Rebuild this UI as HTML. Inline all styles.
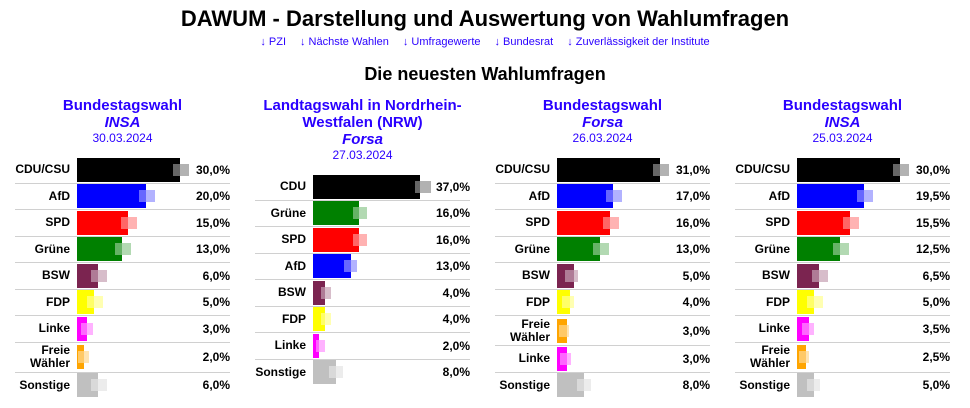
<!DOCTYPE html>
<html><head><meta charset="utf-8"><style>
body{margin:0;width:970px;height:408px;background:#fff;font-family:"Liberation Sans",Arial,sans-serif;position:relative;overflow:hidden}
.h1{position:absolute;top:6px;left:0;width:970px;text-align:center;font-weight:bold;font-size:22px;color:#000}
.nav{position:absolute;top:36px;left:0;width:970px;text-align:center;font-size:11px;color:#2a00ff}
.nav span{margin:0 7px}
.h2{position:absolute;top:64px;left:0;width:970px;text-align:center;font-weight:bold;font-size:18px}
.col{position:absolute;width:215px}
.t{text-align:center;color:#2a00ff;font-weight:bold;font-size:15px;line-height:17px}
.t i{display:block}
.d{text-align:center;color:#2a00ff;font-size:12px;line-height:15px;margin-bottom:11px}
.r{position:relative;height:25.5px;border-bottom:1px solid #d0d0d0}
.r.two{height:29px}
.l{position:absolute;right:160px;top:0;height:100%;display:flex;align-items:center;justify-content:flex-end;font-weight:bold;font-size:12px;text-align:right;line-height:13px}
.b{position:absolute;left:62px;top:50%;margin-top:-12px;height:24px;overflow:hidden}
.m{position:absolute;top:50%;margin-top:-6px;height:12px;width:16px}
.mi{position:absolute;top:6px;height:12px;width:16px;background:rgba(255,255,255,.4)}
.v{position:absolute;right:0;top:0;height:100%;display:flex;align-items:center;font-weight:bold;font-size:12px}
</style></head><body>
<div class="h1">DAWUM - Darstellung und Auswertung von Wahlumfragen</div>
<div class="nav"><span>↓ PZI</span><span>↓ Nächste Wahlen</span><span>↓ Umfragewerte</span><span>↓ Bundesrat</span><span>↓ Zuverlässigkeit der Institute</span></div>
<div class="h2">Die neuesten Wahlumfragen</div>

<div class="col" style="left:15px;top:97px">
<div class="t">Bundestagswahl<i>INSA</i></div><div class="d">30.03.2024</div>
<div class="r"><div class="l">CDU/CSU</div><div class="m" style="left:158px;background:rgba(0,0,0,.3)"></div><div class="b" style="width:103px;background:#000"><div class="mi" style="left:96px"></div></div><div class="v">30,0%</div></div>
<div class="r"><div class="l">AfD</div><div class="m" style="left:124px;background:rgba(0,0,255,.3)"></div><div class="b" style="width:69px;background:#00f"><div class="mi" style="left:62px"></div></div><div class="v">20,0%</div></div>
<div class="r"><div class="l">SPD</div><div class="m" style="left:106px;background:rgba(255,0,0,.3)"></div><div class="b" style="width:51px;background:#f00"><div class="mi" style="left:44px"></div></div><div class="v">15,0%</div></div>
<div class="r"><div class="l">Grüne</div><div class="m" style="left:100px;background:rgba(0,128,0,.3)"></div><div class="b" style="width:45px;background:#008000"><div class="mi" style="left:38px"></div></div><div class="v">13,0%</div></div>
<div class="r"><div class="l">BSW</div><div class="m" style="left:76px;background:rgba(123,36,80,.3)"></div><div class="b" style="width:21px;background:#7b2450"><div class="mi" style="left:14px"></div></div><div class="v">6,0%</div></div>
<div class="r"><div class="l">FDP</div><div class="m" style="left:72px;background:rgba(255,255,0,.3)"></div><div class="b" style="width:17px;background:#ff0"><div class="mi" style="left:10px"></div></div><div class="v">5,0%</div></div>
<div class="r"><div class="l">Linke</div><div class="m" style="left:66px;width:12px;background:rgba(255,0,255,.3)"></div><div class="b" style="width:10px;background:#f0f"><div class="mi" style="left:4px"></div></div><div class="v">3,0%</div></div>
<div class="r two"><div class="l">Freie<br>Wähler</div><div class="m" style="left:63px;width:11px;background:rgba(255,165,0,.3)"></div><div class="b" style="width:7px;background:#ffa500"><div class="mi" style="left:1px"></div></div><div class="v">2,0%</div></div>
<div class="r" style="border:0"><div class="l">Sonstige</div><div class="m" style="left:76px;background:rgba(192,192,192,.3)"></div><div class="b" style="width:21px;background:#c0c0c0"><div class="mi" style="left:14px"></div></div><div class="v">6,0%</div></div>
</div>

<div class="col" style="left:255px;top:97px">
<div class="t">Landtagswahl in Nordrhein-<br>Westfalen (NRW)<i>Forsa</i></div><div class="d">27.03.2024</div>
<div class="r"><div class="l" style="right:164px">CDU</div><div class="m" style="left:160px;background:rgba(0,0,0,.3)"></div><div class="b" style="left:58px;width:107px;background:#000"><div class="mi" style="left:102px"></div></div><div class="v">37,0%</div></div>
<div class="r"><div class="l" style="right:164px">Grüne</div><div class="m" style="left:98px;width:14px;background:rgba(0,128,0,.3)"></div><div class="b" style="left:58px;width:46px;background:#008000"><div class="mi" style="left:40px"></div></div><div class="v">16,0%</div></div>
<div class="r"><div class="l" style="right:164px">SPD</div><div class="m" style="left:98px;width:14px;background:rgba(255,0,0,.3)"></div><div class="b" style="left:58px;width:46px;background:#f00"><div class="mi" style="left:40px"></div></div><div class="v">16,0%</div></div>
<div class="r"><div class="l" style="right:164px">AfD</div><div class="m" style="left:89px;width:13px;background:rgba(0,0,255,.3)"></div><div class="b" style="left:58px;width:38px;background:#00f"><div class="mi" style="left:31px"></div></div><div class="v">13,0%</div></div>
<div class="r"><div class="l" style="right:164px">BSW</div><div class="m" style="left:66px;width:10px;background:rgba(123,36,80,.3)"></div><div class="b" style="left:58px;width:12px;background:#7b2450"><div class="mi" style="left:8px"></div></div><div class="v">4,0%</div></div>
<div class="r"><div class="l" style="right:164px">FDP</div><div class="m" style="left:66px;width:10px;background:rgba(255,255,0,.3)"></div><div class="b" style="left:58px;width:12px;background:#ff0"><div class="mi" style="left:8px"></div></div><div class="v">4,0%</div></div>
<div class="r"><div class="l" style="right:164px">Linke</div><div class="m" style="left:62px;width:8px;background:rgba(255,0,255,.3)"></div><div class="b" style="left:58px;width:6px;background:#f0f"><div class="mi" style="left:3px"></div></div><div class="v">2,0%</div></div>
<div class="r" style="border:0"><div class="l" style="right:164px">Sonstige</div><div class="m" style="left:74px;width:14px;background:rgba(192,192,192,.3)"></div><div class="b" style="left:58px;width:23px;background:#c0c0c0"><div class="mi" style="left:16px"></div></div><div class="v">8,0%</div></div>
</div>

<div class="col" style="left:495px;top:97px">
<div class="t">Bundestagswahl<i>Forsa</i></div><div class="d">26.03.2024</div>
<div class="r"><div class="l">CDU/CSU</div><div class="m" style="left:158px;background:rgba(0,0,0,.3)"></div><div class="b" style="width:103px;background:#000"><div class="mi" style="left:96px"></div></div><div class="v">31,0%</div></div>
<div class="r"><div class="l">AfD</div><div class="m" style="left:111px;background:rgba(0,0,255,.3)"></div><div class="b" style="width:56px;background:#00f"><div class="mi" style="left:49px"></div></div><div class="v">17,0%</div></div>
<div class="r"><div class="l">SPD</div><div class="m" style="left:108px;background:rgba(255,0,0,.3)"></div><div class="b" style="width:53px;background:#f00"><div class="mi" style="left:46px"></div></div><div class="v">16,0%</div></div>
<div class="r"><div class="l">Grüne</div><div class="m" style="left:98px;background:rgba(0,128,0,.3)"></div><div class="b" style="width:43px;background:#008000"><div class="mi" style="left:36px"></div></div><div class="v">13,0%</div></div>
<div class="r"><div class="l">BSW</div><div class="m" style="left:70px;width:13px;background:rgba(123,36,80,.3)"></div><div class="b" style="width:17px;background:#7b2450"><div class="mi" style="left:8px"></div></div><div class="v">5,0%</div></div>
<div class="r"><div class="l">FDP</div><div class="m" style="left:67px;width:12px;background:rgba(255,255,0,.3)"></div><div class="b" style="width:13px;background:#ff0"><div class="mi" style="left:5px"></div></div><div class="v">4,0%</div></div>
<div class="r two"><div class="l">Freie<br>Wähler</div><div class="m" style="left:64px;width:10px;background:rgba(255,165,0,.3)"></div><div class="b" style="width:10px;background:#ffa500"><div class="mi" style="left:2px"></div></div><div class="v">3,0%</div></div>
<div class="r"><div class="l">Linke</div><div class="m" style="left:65px;width:11px;background:rgba(255,0,255,.3)"></div><div class="b" style="width:10px;background:#f0f"><div class="mi" style="left:3px"></div></div><div class="v">3,0%</div></div>
<div class="r" style="border:0"><div class="l">Sonstige</div><div class="m" style="left:82px;width:14px;background:rgba(192,192,192,.3)"></div><div class="b" style="width:27px;background:#c0c0c0"><div class="mi" style="left:20px"></div></div><div class="v">8,0%</div></div>
</div>

<div class="col" style="left:735px;top:97px">
<div class="t">Bundestagswahl<i>INSA</i></div><div class="d">25.03.2024</div>
<div class="r"><div class="l">CDU/CSU</div><div class="m" style="left:158px;background:rgba(0,0,0,.3)"></div><div class="b" style="width:103px;background:#000"><div class="mi" style="left:96px"></div></div><div class="v">30,0%</div></div>
<div class="r"><div class="l">AfD</div><div class="m" style="left:122px;background:rgba(0,0,255,.3)"></div><div class="b" style="width:67px;background:#00f"><div class="mi" style="left:60px"></div></div><div class="v">19,5%</div></div>
<div class="r"><div class="l">SPD</div><div class="m" style="left:108px;background:rgba(255,0,0,.3)"></div><div class="b" style="width:53px;background:#f00"><div class="mi" style="left:46px"></div></div><div class="v">15,5%</div></div>
<div class="r"><div class="l">Grüne</div><div class="m" style="left:98px;background:rgba(0,128,0,.3)"></div><div class="b" style="width:43px;background:#008000"><div class="mi" style="left:36px"></div></div><div class="v">12,5%</div></div>
<div class="r"><div class="l">BSW</div><div class="m" style="left:77px;background:rgba(123,36,80,.3)"></div><div class="b" style="width:22px;background:#7b2450"><div class="mi" style="left:15px"></div></div><div class="v">6,5%</div></div>
<div class="r"><div class="l">FDP</div><div class="m" style="left:72px;background:rgba(255,255,0,.3)"></div><div class="b" style="width:17px;background:#ff0"><div class="mi" style="left:10px"></div></div><div class="v">5,0%</div></div>
<div class="r"><div class="l">Linke</div><div class="m" style="left:67px;width:12px;background:rgba(255,0,255,.3)"></div><div class="b" style="width:12px;background:#f0f"><div class="mi" style="left:5px"></div></div><div class="v">3,5%</div></div>
<div class="r two"><div class="l">Freie<br>Wähler</div><div class="m" style="left:64px;width:10px;background:rgba(255,165,0,.3)"></div><div class="b" style="width:9px;background:#ffa500"><div class="mi" style="left:2px"></div></div><div class="v">2,5%</div></div>
<div class="r" style="border:0"><div class="l">Sonstige</div><div class="m" style="left:73px;width:12px;background:rgba(192,192,192,.3)"></div><div class="b" style="width:17px;background:#c0c0c0"><div class="mi" style="left:10px"></div></div><div class="v">5,0%</div></div>
</div>
</body></html>
